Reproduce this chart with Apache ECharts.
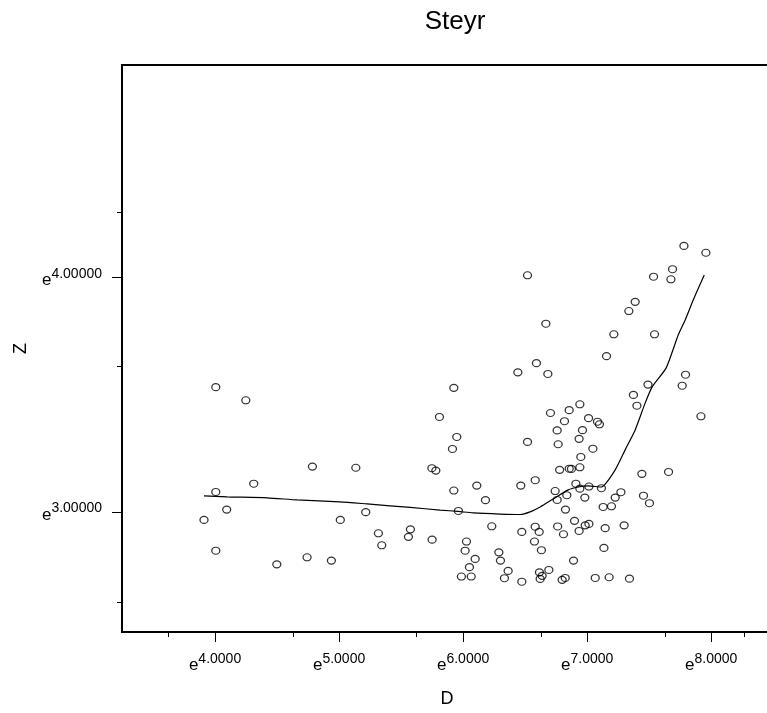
<!DOCTYPE html>
<html>
<head>
<meta charset="utf-8">
<script src="https://cdn.jsdelivr.net/npm/echarts@6/dist/echarts.min.js"></script>
<style>
  html, body { margin: 0; padding: 0; background: #fff; }
  #main { width: 767px; height: 713px; }
</style>
</head>
<body>
<div id="main"></div>
<script>
// values are natural-log units (axis shows e^value)
const dLog = [
  4.006, 4.248, 5.809, 4.785, 5.135, 5.748, 5.780, 4.312, 4.006, 4.094,
  3.911, 5.010, 5.215, 5.317, 5.344, 5.575, 5.559, 5.750, 4.006, 4.498,
  4.742, 4.938, 6.519, 6.667, 6.441, 6.591, 6.683, 5.925, 6.704, 5.949,
  5.914, 6.519, 5.925, 6.110, 6.180, 6.465, 6.581, 5.962, 6.231, 6.473,
  6.581, 6.613, 6.575, 6.631, 6.027, 6.016, 6.097, 6.051, 6.288, 6.301,
  6.363, 5.986, 6.065, 6.333, 6.473, 6.615, 6.691, 6.621, 6.637, 6.758,
  6.766, 6.778, 6.742, 6.758, 6.762, 6.798, 7.780, 7.957, 7.688, 7.675,
  7.535, 7.387, 7.336, 7.215, 7.543, 7.156, 7.793, 7.766, 7.490, 7.373,
  7.401, 7.917, 6.941, 6.855, 6.817, 7.011, 7.083, 7.099, 6.962, 6.935,
  7.046, 6.949, 6.855, 6.873, 6.941, 6.909, 6.941, 7.014, 7.115, 6.836,
  6.981, 6.825, 7.129, 7.196, 7.226, 7.272, 7.441, 7.656, 7.454, 7.502,
  6.809, 6.898, 6.935, 6.984, 7.014, 7.145, 7.298, 7.135, 6.890, 6.823,
  7.065, 7.177, 7.341
]
const zLog = [
  3.534, 3.478, 3.407, 3.196, 3.191, 3.189, 3.179, 3.123, 3.088, 3.013,
  2.969, 2.969, 3.002, 2.912, 2.861, 2.929, 2.897, 2.885, 2.838, 2.780,
  2.810, 2.796, 4.010, 3.804, 3.597, 3.636, 3.590, 3.531, 3.424, 3.322,
  3.271, 3.301, 3.094, 3.115, 3.053, 3.115, 3.138, 3.007, 2.942, 2.918,
  2.940, 2.918, 2.877, 2.840, 2.877, 2.838, 2.803, 2.768, 2.831, 2.796,
  2.752, 2.728, 2.728, 2.721, 2.706, 2.746, 2.756, 2.718, 2.731, 3.350,
  3.291, 3.182, 3.092, 3.054, 2.941, 2.714, 4.135, 4.106, 4.036, 3.993,
  4.004, 3.897, 3.858, 3.759, 3.759, 3.666, 3.587, 3.540, 3.545, 3.501,
  3.455, 3.410, 3.461, 3.436, 3.389, 3.402, 3.387, 3.376, 3.351, 3.314,
  3.272, 3.237, 3.187, 3.186, 3.193, 3.123, 3.102, 3.111, 3.104, 3.074,
  3.064, 3.013, 3.024, 3.027, 3.064, 3.087, 3.165, 3.173, 3.072, 3.040,
  2.908, 2.965, 2.922, 2.946, 2.952, 2.934, 2.946, 2.850, 2.796, 2.722,
  2.722, 2.725, 2.719
]

// smoothed fit line
const fitD = [
  3.911, 4.097, 4.419, 4.661, 5.008, 5.226, 5.411, 5.573, 5.815, 5.960,
  6.081, 6.298, 6.460, 6.540, 6.621, 6.726, 6.847, 6.927, 7.008, 7.113,
  7.226, 7.306, 7.387, 7.468, 7.524, 7.637, 7.734, 7.790, 7.855, 7.944
]
const fitZ = [
  3.071, 3.067, 3.063, 3.054, 3.046, 3.037, 3.029, 3.022, 3.011, 3.005,
  2.999, 2.994, 2.992, 3.003, 3.024, 3.058, 3.097, 3.109, 3.114, 3.109,
  3.182, 3.267, 3.352, 3.467, 3.535, 3.616, 3.756, 3.820, 3.905, 4.011
]

const xMajor = [4, 5, 6, 7, 8]
const xMinor = [3.62, 4.63, 5.62, 6.63, 7.63, 8.27]
const yMajor = [3, 4]
const yMinor = [2.617, 3.621, 4.277]

const font = 'Liberation Sans, Arial, sans-serif'

const expLabel = (digits) => ({
  fontFamily: font,
  color: '#000',
  formatter: (v) => '{e|e}{s|' + Number(v).toFixed(digits) + '}',
  rich: {
    e: { fontFamily: font, fontSize: 17, color: '#000', lineHeight: 22, verticalAlign: 'bottom' },
    s: { fontFamily: font, fontSize: 14, color: '#000', lineHeight: 22, verticalAlign: 'top' }
  }
})

const myChart = echarts.init(document.getElementById('main'))
const option = {
  backgroundColor: '#fff',
  animation: false,
  title: {
    text: 'Steyr',
    left: 450,
    top: 4,
    textAlign: 'center',
    textStyle: { fontFamily: font, fontSize: 26, fontWeight: 'normal', color: '#000' }
  },
  grid: {
    left: 122,
    top: 65,
    right: -5,
    bottom: 81,
    outerBoundsMode: 'none',
    containLabel: false,
    show: true,
    borderColor: '#000',
    borderWidth: 2,
    backgroundColor: '#fff'
  },
  xAxis: [
    {
      type: 'value',
      min: 3.25,
      max: 8.49,
      name: 'D',
      nameLocation: 'middle',
      nameGap: 58,
      nameTextStyle: { fontFamily: font, fontSize: 18, color: '#000' },
      axisLine: { lineStyle: { color: '#000', width: 2 } },
      axisTick: { customValues: xMajor, length: 10, lineStyle: { color: '#000' } },
      axisLabel: { customValues: xMajor, margin: 20, ...expLabel(4) },
      splitLine: { show: false }
    },
    {
      type: 'value',
      min: 3.25,
      max: 8.49,
      position: 'bottom',
      axisLine: { show: false },
      axisTick: { customValues: xMinor, length: 5, lineStyle: { color: '#000' } },
      axisLabel: { show: false },
      splitLine: { show: false }
    }
  ],
  yAxis: [
    {
      type: 'value',
      min: 2.492,
      max: 4.905,
      name: 'Z',
      nameLocation: 'middle',
      nameGap: 92,
      nameRotate: 90,
      nameTextStyle: { fontFamily: font, fontSize: 18, color: '#000' },
      axisLine: { show: true, lineStyle: { color: '#000', width: 2 } },
      axisTick: { show: true, customValues: yMajor, length: 10, lineStyle: { color: '#000' } },
      axisLabel: { customValues: yMajor, margin: 20, ...expLabel(5) },
      splitLine: { show: false }
    },
    {
      type: 'value',
      min: 2.492,
      max: 4.905,
      position: 'left',
      axisLine: { show: false },
      axisTick: { show: true, customValues: yMinor, length: 5, lineStyle: { color: '#000' } },
      axisLabel: { show: false },
      splitLine: { show: false }
    }
  ],
  series: [
    {
      type: 'scatter',
      data: dLog.map((d, i) => [d, zLog[i]]),
      symbol: 'circle',
      symbolSize: [8, 7],
      itemStyle: { color: 'rgba(0,0,0,0)', borderColor: '#000', borderWidth: 1.2 },
      z: 3
    },
    {
      type: 'line',
      data: fitD.map((d, i) => [d, fitZ[i]]),
      showSymbol: false,
      smooth: 0.2,
      lineStyle: { color: '#000', width: 1.2 },
      z: 2
    }
  ]
}
myChart.clear()
myChart.setOption(option)
</script>
</body>
</html>
